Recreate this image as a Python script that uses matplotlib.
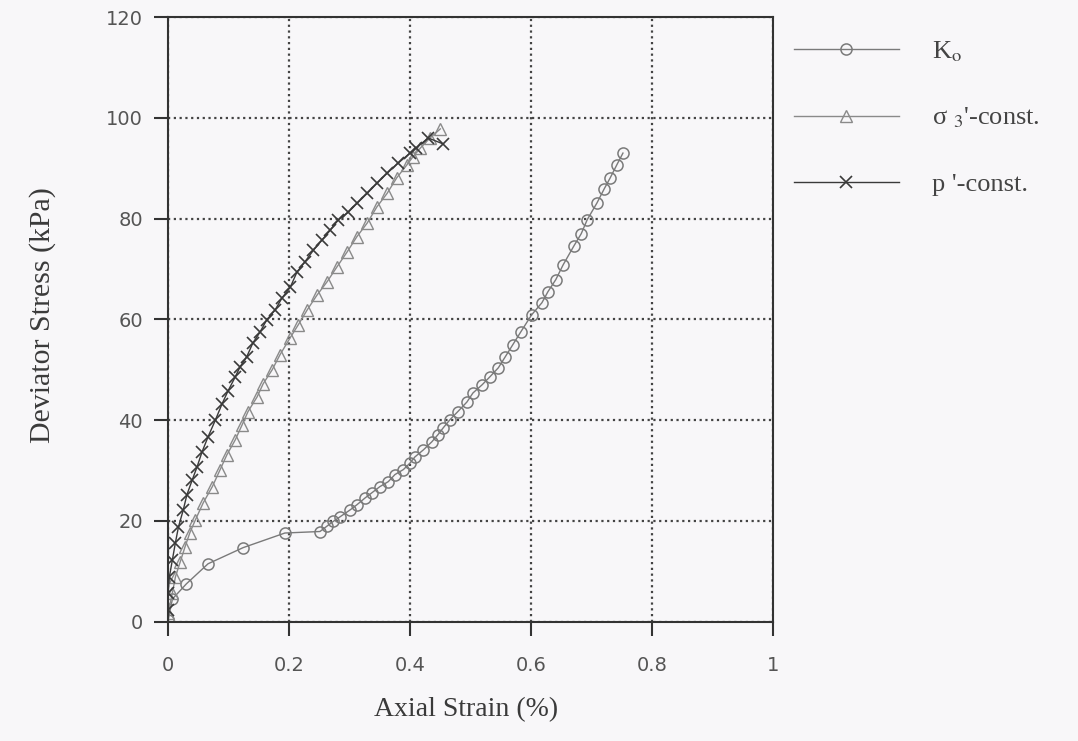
import matplotlib
matplotlib.use("Agg")
import matplotlib.pyplot as plt

# Ko consolidation test
ko_strain = [0.0, 0.007, 0.03, 0.066, 0.124, 0.193, 0.251, 0.263, 0.273, 0.284, 0.301,
             0.312, 0.326, 0.337, 0.35, 0.364, 0.375, 0.389, 0.40, 0.408, 0.422, 0.436,
             0.446, 0.455, 0.466, 0.479, 0.494, 0.504, 0.519, 0.532, 0.546, 0.557, 0.570,
             0.583, 0.601, 0.618, 0.628, 0.641, 0.653, 0.671, 0.683, 0.693, 0.709, 0.721,
             0.731, 0.742, 0.752]
ko_stress = [0.3, 4.5, 7.5, 11.5, 14.7, 17.6, 17.9, 19.0, 19.9, 20.8, 22.2,
             23.2, 24.6, 25.6, 26.8, 27.8, 29.2, 30.2, 31.5, 32.7, 34.1, 35.7,
             37.1, 38.5, 40.1, 41.7, 43.6, 45.4, 47.0, 48.6, 50.4, 52.5, 55.0,
             57.5, 60.9, 63.3, 65.5, 67.9, 70.8, 74.6, 77.0, 79.8, 83.1, 85.9,
             88.1, 90.7, 93.0]

# sigma3'-constant test
s3_strain = [0.0, 0.007, 0.012, 0.02, 0.028, 0.036, 0.045, 0.058, 0.073, 0.086, 0.097,
             0.111, 0.122, 0.132, 0.147, 0.157, 0.172, 0.185, 0.202, 0.215, 0.230,
             0.246, 0.263, 0.279, 0.296, 0.312, 0.329, 0.345, 0.362, 0.378, 0.395,
             0.405, 0.417, 0.433, 0.450]
s3_stress = [1.8, 5.7, 8.9, 11.9, 14.9, 17.7, 20.2, 23.6, 26.8, 30.2, 33.1,
             36.1, 39.0, 41.7, 44.6, 47.2, 50.0, 53.0, 56.4, 58.9, 61.9,
             64.8, 67.5, 70.4, 73.4, 76.4, 79.1, 82.3, 85.0, 88.1, 90.7,
             92.3, 94.0, 96.0, 97.8]

# p'-constant test
p_strain = [0.0, 0.0, 0.002, 0.007, 0.012, 0.017, 0.025, 0.031, 0.040, 0.048, 0.056,
            0.066, 0.078, 0.089, 0.099, 0.111, 0.119, 0.130, 0.140, 0.152, 0.163,
            0.177, 0.188, 0.202, 0.213, 0.226, 0.240, 0.254, 0.268, 0.281, 0.298,
            0.312, 0.329, 0.345, 0.362, 0.380, 0.400, 0.410, 0.430, 0.455]
p_stress = [2.4, 5.7, 8.9, 12.3, 15.7, 18.8, 22.2, 25.2, 28.2, 30.8, 33.7,
            36.7, 40.0, 43.2, 45.8, 48.6, 50.6, 52.6, 55.3, 57.5, 59.9,
            61.9, 64.2, 66.4, 69.4, 71.4, 73.7, 75.7, 77.7, 79.7, 81.3,
            83.0, 85.0, 87.0, 89.0, 91.0, 93.0, 94.0, 96.0, 94.8]

x_ticks = [0, 0.2, 0.4, 0.6, 0.8, 1]
x_ticklabels = ["0", "0.2", "0.4", "0.6", "0.8", "1"]
y_ticks = [0, 20, 40, 60, 80, 100, 120]

serif = ["Liberation Serif", "DejaVu Serif"]
sans = ["DejaVu Sans"]
plt.rcParams["mathtext.fontset"] = "stix"

bg = "#f8f7f9"
fig = plt.figure(figsize=(10.78, 7.41), dpi=100, facecolor=bg)
ax = fig.add_axes([0.156, 0.161, 0.561, 0.816])
ax.set_facecolor(bg)

ax.plot(ko_strain, ko_stress, color="#7a7a7a", lw=1.0, marker="o", ms=8,
        mfc="none", mec="#7a7a7a", mew=1.1, label="K$_{\\rm o}$")
ax.plot(s3_strain, s3_stress, color="#8a8a8a", lw=1.0, marker="^", ms=8.5,
        mfc="none", mec="#8a8a8a", mew=1.0, label="σ $_{3}$'-const.")
ax.plot(p_strain, p_stress, color="#3a3a3a", lw=1.0, marker="x", ms=8.5,
        mec="#3a3a3a", mew=1.2, label="p '-const.")

ax.set_xlim(0, 1)
ax.set_ylim(0, 120)
ax.set_xticks(x_ticks)
ax.set_xticklabels(x_ticklabels)
ax.set_yticks(y_ticks)
ax.grid(True, color="#444444", linestyle=(0, (1, 1.6)), linewidth=1.6)
ax.tick_params(direction="out", length=10, width=1.5, colors="#333333",
               labelsize=14)
ax.tick_params(axis="x", pad=15)
ax.tick_params(axis="y", pad=8)
for lab in ax.get_xticklabels() + ax.get_yticklabels():
    lab.set_family(sans)
    lab.set_color("#555555")
for sp in ax.spines.values():
    sp.set_color("#333333")
    sp.set_linewidth(1.5)

ax.set_xlabel("Axial Strain (%)", family=serif, fontsize=20, color="#3a3a3a")
ax.xaxis.set_label_coords(0.4926, -0.125)
ax.set_ylabel("Deviator Stress (kPa)", family=serif, fontsize=21.5, color="#3a3a3a")
ax.yaxis.set_label_coords(-0.185, 0.507)

leg = ax.legend(loc="upper left", bbox_to_anchor=(0.995, 1.003), frameon=False,
                handlelength=4.0, handletextpad=1.25, labelspacing=1.6,
                prop={"family": serif, "size": 19})
for t in leg.get_texts():
    t.set_color("#444444")

fig.savefig("out.png", dpi=100, facecolor=fig.get_facecolor())
